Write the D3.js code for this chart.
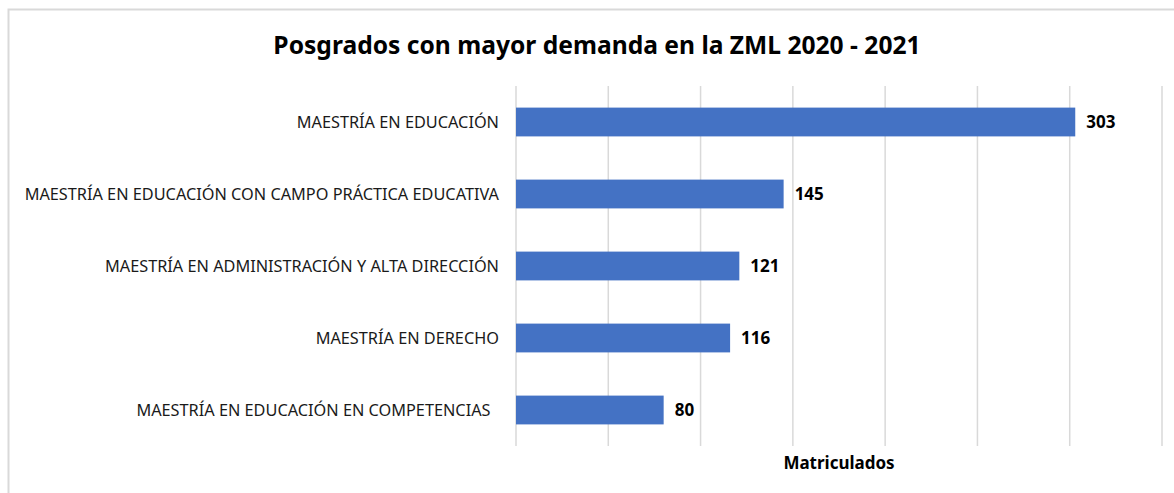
<!DOCTYPE html>
<html>
<head>
<meta charset="utf-8">
<script src="https://cdn.jsdelivr.net/npm/d3@7"></script>
<style>
body { margin: 0; background: #fff; }
text { font-family: "Noto Sans", sans-serif; }
</style>
</head>
<body>
<script>
var categories = [
  "MAESTRÍA EN EDUCACIÓN",
  "MAESTRÍA EN EDUCACIÓN CON CAMPO PRÁCTICA EDUCATIVA",
  "MAESTRÍA EN ADMINISTRACIÓN Y ALTA DIRECCIÓN",
  "MAESTRÍA EN DERECHO",
  "MAESTRÍA EN EDUCACIÓN EN COMPETENCIAS  "
];
var values = [303, 145, 121, 116, 80];
var xTicks = [0, 50, 100, 150, 200, 250, 300, 350];

var W = 1174, H = 493;
var margin = {top: 86, right: 12, bottom: 47, left: 516};
var width = W - margin.left - margin.right,
    height = H - margin.top - margin.bottom;

var svg = d3.select('body').append('svg')
  .attr('width', W).attr('height', H);

// chart frame
svg.append('rect')
  .attr('x', 8.5).attr('y', 9.5)
  .attr('width', 1200).attr('height', 600)
  .attr('fill', 'none').attr('stroke', '#d9d9d9').attr('stroke-width', 2);

svg.append('text')
  .attr('x', 597).attr('y', 54)
  .attr('text-anchor', 'middle')
  .attr('font-size', 24.6).attr('font-weight', 'bold')
  .attr('fill', '#000')
  .text('Posgrados con mayor demanda en la ZML 2020 - 2021');

var x = d3.scaleLinear().domain([0, 350]).range([0, 646]);
var y = d3.scaleBand().domain(categories).range([0, height])
  .paddingInner(0.6).paddingOuter(0.3);

var main = svg.append('g')
  .attr('transform', 'translate(' + margin.left + ',' + margin.top + ')');

// gridlines
main.append('g').selectAll('line')
  .data(xTicks).enter().append('line')
  .attr('x1', function(d) { return x(d); })
  .attr('x2', function(d) { return x(d); })
  .attr('y1', 0).attr('y2', height)
  .attr('stroke', '#d9d9d9').attr('stroke-width', 1.5);

// category labels
main.append('g').selectAll('text')
  .data(categories).enter().append('text')
  .attr('x', -17)
  .attr('y', function(d) { return y(d) + y.bandwidth() / 2; })
  .attr('dy', '0.35em')
  .attr('text-anchor', 'end')
  .style('white-space', 'pre')
  .attr('font-size', 16.3).attr('fill', '#1a1a1a')
  .text(function(d) { return d; });

// bars
main.append('g').selectAll('rect')
  .data(values).enter().append('rect')
  .attr('x', x(0))
  .attr('y', function(d, i) { return y(categories[i]); })
  .attr('width', function(d) { return x(d) - x(0); })
  .attr('height', y.bandwidth())
  .attr('fill', '#4472c4');

// value labels
main.append('g').selectAll('text')
  .data(values).enter().append('text')
  .attr('x', function(d) { return x(d) + 11; })
  .attr('y', function(d, i) { return y(categories[i]) + y.bandwidth() / 2; })
  .attr('dy', '0.35em')
  .attr('font-size', 17).attr('font-weight', 'bold').attr('fill', '#000')
  .text(function(d) { return d; });

main.append('text')
  .attr('x', x(175)).attr('y', height + 23)
  .attr('text-anchor', 'middle')
  .attr('font-size', 17).attr('font-weight', 'bold').attr('fill', '#000')
  .text('Matriculados');
</script>
</body>
</html>
